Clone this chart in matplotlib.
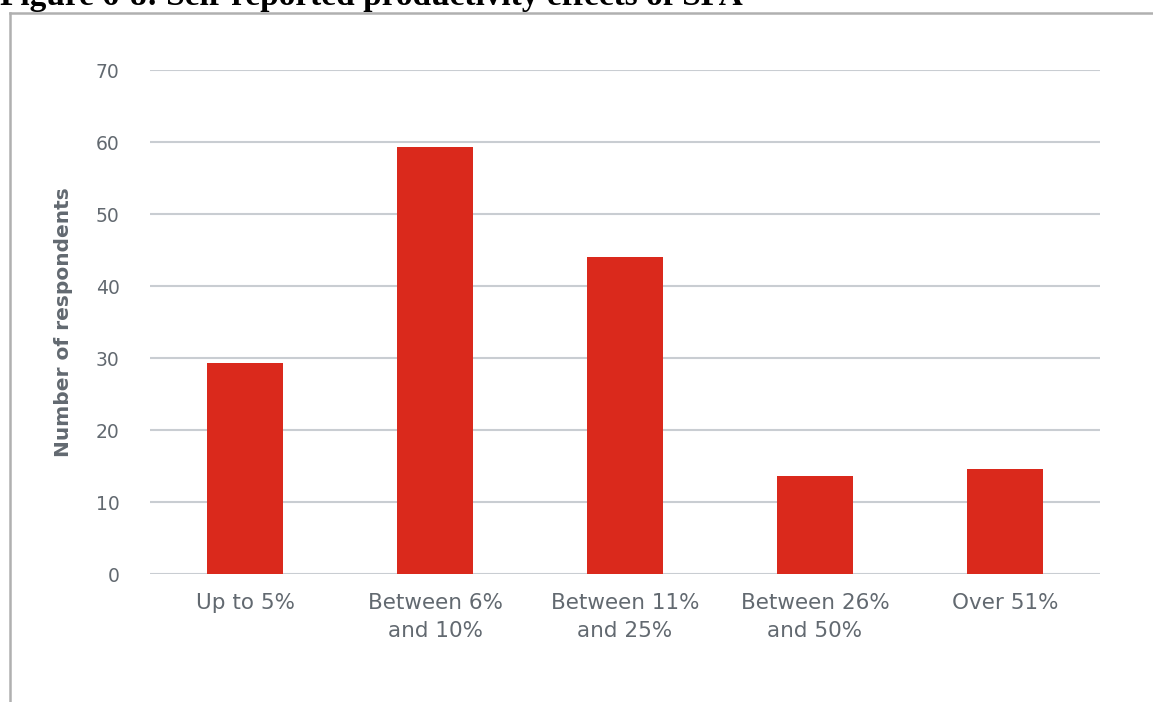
import matplotlib.pyplot as plt
from matplotlib.lines import Line2D

# Data
categories = ["Up to 5%", "Between 6%\nand 10%", "Between 11%\nand 25%",
              "Between 26%\nand 50%", "Over 51%"]
respondents = [29.3, 59.3, 44.0, 13.6, 14.6]
y_ticks = [0, 10, 20, 30, 40, 50, 60, 70]

BAR_RED = "#DA291C"
GRID = "#C9CDD2"
TEXT_GREY = "#626970"
FONT = ["DejaVu Sans"]

W, H = 1153, 702
fig = plt.figure(figsize=(W / 100, H / 100), dpi=100)

# Axes placed in pixel terms of the reference
left, right, top, bottom = 150, 1100, 70, 574
ax = fig.add_axes([left / W, 1 - bottom / H, (right - left) / W, (bottom - top) / H])

x = range(len(categories))
ax.bar(x, respondents, width=0.4, color=BAR_RED, zorder=3)

ax.set_xlim(-0.5, len(categories) - 0.5)
ax.set_ylim(0, 70)
ax.set_yticks(y_ticks)
ax.set_yticklabels([str(t) for t in y_ticks], family=FONT, fontsize=13.5,
                   color=TEXT_GREY)
ax.set_xticks(list(x))
ax.set_xticklabels(categories, family=FONT, fontsize=15.5, color=TEXT_GREY,
                   linespacing=1.45)

ax.yaxis.grid(True, color=GRID, linewidth=1.5, zorder=0)
ax.tick_params(axis="both", length=0)
ax.tick_params(axis="y", pad=22)
ax.tick_params(axis="x", pad=14)
for s in ax.spines.values():
    s.set_visible(False)

ax.set_ylabel("Number of respondents", family=FONT, fontsize=14.5,
              fontweight="bold", color=TEXT_GREY, labelpad=16)

# Document frame and the caption that is cut off by the top edge
fig.add_artist(Line2D([10 / W, 1], [1 - 12.5 / H, 1 - 12.5 / H],
                      transform=fig.transFigure, color="#B0B0B0", linewidth=1.8))
fig.add_artist(Line2D([9.5 / W, 9.5 / W], [0, 1 - 12.5 / H],
                      transform=fig.transFigure, color="#B0B0B0", linewidth=1.8))
fig.text(0, 1 - 5 / H, "Figure 6-8: Self-reported productivity effects of SFA",
         family="Liberation Serif", fontweight="bold", fontsize=24,
         ha="left", va="baseline", color="black")

fig.savefig("out.png", dpi=100)
